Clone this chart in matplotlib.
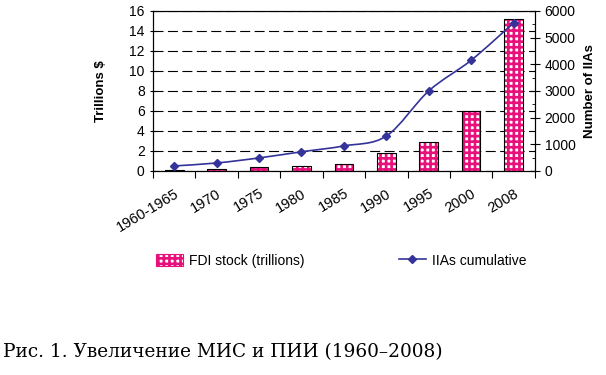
import matplotlib.pyplot as plt
import numpy as np
from matplotlib.path import Path
from matplotlib.patches import PathPatch, Patch
from matplotlib.lines import Line2D

plt.rcParams['font.family'] = ['Liberation Sans', 'DejaVu Sans']
plt.rcParams['hatch.linewidth'] = 1.9

# data
periods = ['1960-1965', '1970', '1975', '1980', '1985', '1990', '1995', '2000', '2008']
fdi_stock = [0.1, 0.2, 0.4, 0.5, 0.7, 1.75, 2.85, 6.0, 15.2]
iias_cum = [190, 300, 490, 720, 940, 1310, 3000, 4150, 5550]

pink = '#e8107a'
navy = '#333399'

fig = plt.figure(figsize=(6.06, 3.75), dpi=100)
ax = fig.add_axes([0.2525, 0.544, 0.63, 0.427])
x = np.arange(len(periods))

ax.bar(x, fdi_stock, width=0.44, facecolor='white', edgecolor=pink, hatch='+++',
       linewidth=0, zorder=3)
ax.bar(x, fdi_stock, width=0.44, facecolor='none', edgecolor='black',
       linewidth=0.8, zorder=4)

ax.set_xlim(-0.5, len(periods) - 0.5)
ax.set_ylim(0, 16)
ax.set_yticks(range(0, 17, 2))
ax.yaxis.grid(True, color='black', linestyle=(0, (9, 4)), linewidth=0.8)
ax.set_axisbelow(True)
ax.set_xticks(np.arange(-0.5, len(periods), 1.0))
ax.set_xticklabels([])
ax.set_xticks(x, minor=True)
ax.set_xticklabels(periods, minor=True, rotation=31, ha='right', va='top',
                   rotation_mode='anchor', fontsize=10.5)
ax.tick_params(axis='x', which='minor', length=0, pad=11)
ax.tick_params(axis='x', which='major', length=5, direction='out')
ax.tick_params(axis='y', labelsize=10, length=5, direction='inout')
ax.set_ylabel('Trillions $', fontsize=9.5, fontweight='bold', labelpad=16)
for s in ax.spines.values():
    s.set_linewidth(0.8)

ax2 = ax.twinx()
ax2.set_ylim(0, 6000)
ax2.set_yticks(range(0, 6001, 1000))
ax2.set_yticks(range(500, 6000, 1000), minor=True)
ax2.tick_params(axis='y', labelsize=10, length=7, direction='inout')
ax2.tick_params(axis='y', which='minor', length=2.5, direction='in')
ax2.set_ylabel('Number of IIAs', fontsize=9.5, fontweight='bold', labelpad=6)

# smoothed line (Catmull-Rom as Bezier segments, like Excel's smooth line)
pts = np.column_stack([x, iias_cum]).astype(float)
verts = [pts[0]]
codes = [Path.MOVETO]
for i in range(len(pts) - 1):
    p0 = pts[i - 1] if i > 0 else pts[i]
    p1, p2 = pts[i], pts[i + 1]
    p3 = pts[i + 2] if i + 2 < len(pts) else pts[i + 1]
    c1 = p1 + (p2 - p0) / 6.0
    c2 = p2 - (p3 - p1) / 6.0
    verts += [c1, c2, p2]
    codes += [Path.CURVE4] * 3
ax2.add_patch(PathPatch(Path(verts, codes), facecolor='none', edgecolor=navy,
                        linewidth=1.2, zorder=5))
ax2.plot(x, iias_cum, linestyle='none', marker='D', markersize=4.5,
         color=navy, zorder=6)

handles = [Patch(facecolor='white', edgecolor=pink, hatch='+++', linewidth=0.8),
           Line2D([0], [0], color=navy, marker='D', markersize=4.5, linewidth=1.2)]
leg = fig.legend(handles, ['FDI stock (trillions)', 'IIAs cumulative'],
                 loc='center', bbox_to_anchor=(0.563, 0.305), ncol=2, frameon=False,
                 fontsize=10, columnspacing=6.8, handlelength=1.95, handleheight=0.9,
                 handletextpad=0.4)

fig.text(0.005, 0.048, 'Рис. 1. Увеличение МИС и ПИИ (1960–2008)',
         family='DejaVu Serif', fontsize=13.3, ha='left', va='baseline')

fig.savefig('out.png', dpi=100)
